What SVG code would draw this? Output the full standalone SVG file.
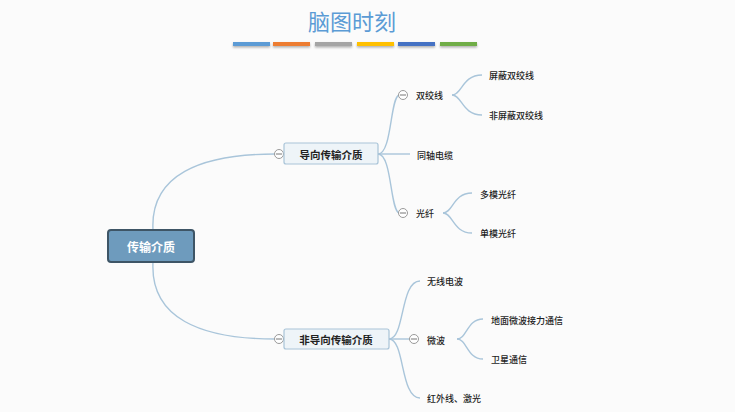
<svg xmlns="http://www.w3.org/2000/svg" width="735" height="412" viewBox="0 0 735 412">
<defs>
<style>
.t{font-family:"Noto Sans CJK SC","Liberation Sans",sans-serif;fill:#1e1e1e;font-size:9px;font-weight:500;dominant-baseline:central}
.m{font-family:"Noto Sans CJK SC","Liberation Sans",sans-serif;fill:#222;font-size:10.5px;font-weight:bold;dominant-baseline:central;text-anchor:middle}
.c{fill:none;stroke:#a9c5da;stroke-width:1.4}
.col circle{fill:#fff;stroke:#9a9a9a;stroke-width:1}
.col line{stroke:#777;stroke-width:1}
.bar{stroke:none}
</style>
<filter id="sh" x="-10%" y="-50%" width="120%" height="250%"><feDropShadow dx="0" dy="1.5" stdDeviation="1" flood-color="#000" flood-opacity="0.3"/></filter>
</defs>
<rect width="735" height="412" fill="#fbfbfb"/>
<g id="title">
<text x="352" y="20" font-family="'Noto Sans CJK SC',sans-serif" font-size="22" fill="#5b9bd5" text-anchor="middle" dominant-baseline="central">脑图时刻</text>
<g filter="url(#sh)">
<rect class="bar" x="233" y="42" width="37" height="4" fill="#5b9bd5"/>
<rect class="bar" x="273" y="42" width="37" height="4" fill="#ed7d31"/>
<rect class="bar" x="315" y="42" width="37" height="4" fill="#a5a5a5"/>
<rect class="bar" x="357" y="42" width="37" height="4" fill="#ffc000"/>
<rect class="bar" x="398" y="42" width="37" height="4" fill="#4472c4"/>
<rect class="bar" x="440" y="42" width="37" height="4" fill="#70ad47"/>
</g>
</g>
<g id="connectors">
<path class="c" d="M153,230 C150,175 200,154 275,154"/>
<path class="c" d="M153,262 C150,318 200,339 275,339"/>
<path class="c" d="M378,154 C392,154 390,98 399,95"/>
<path class="c" d="M378,154 L410,154"/>
<path class="c" d="M378,154 C392,154 390,210 399,213"/>
<path class="c" d="M452,95 C462,95 462,75 482,75"/>
<path class="c" d="M452,95 C462,95 462,115 482,115"/>
<path class="c" d="M443,213 C453,213 453,193 472,193"/>
<path class="c" d="M443,213 C453,213 453,233 472,233"/>
<path class="c" d="M389,339 C405,339 400,281 420,281"/>
<path class="c" d="M389,339 L410,339"/>
<path class="c" d="M389,339 C405,339 400,398 420,398"/>
<path class="c" d="M457,339 C467,339 467,319 483,319"/>
<path class="c" d="M457,339 C467,339 467,359 483,359"/>
</g>
<g id="root">
<rect x="108" y="230" width="86" height="32" rx="3" fill="#6e9bbd" stroke="#3e5566" stroke-width="2"/>
<text x="151" y="246" font-family="'Noto Sans CJK SC',sans-serif" font-size="12" font-weight="bold" fill="#fff" text-anchor="middle" dominant-baseline="central">传输介质</text>
</g>
<g id="guided">
<g class="col"><circle cx="279" cy="154" r="4.5"/><line x1="276" y1="154" x2="282" y2="154"/></g>
<rect x="284" y="143" width="94" height="21" rx="2" fill="#eef4f8" stroke="#a9c4d8" stroke-width="1.2"/>
<text class="m" x="331" y="154">导向传输介质</text>
</g>
<g id="twisted">
<g class="col"><circle cx="403" cy="95" r="4.5"/><line x1="400" y1="95" x2="406" y2="95"/></g>
<text class="t" x="416" y="95">双绞线</text>
</g>
<g id="stp"><text class="t" x="489" y="75">屏蔽双绞线</text></g>
<g id="utp"><text class="t" x="489" y="115">非屏蔽双绞线</text></g>
<g id="coax"><text class="t" x="417" y="155">同轴电缆</text></g>
<g id="fiber">
<g class="col"><circle cx="403" cy="213" r="4.5"/><line x1="400" y1="213" x2="406" y2="213"/></g>
<text class="t" x="416" y="213">光纤</text>
</g>
<g id="mmf"><text class="t" x="480" y="194">多模光纤</text></g>
<g id="smf"><text class="t" x="480" y="233">单模光纤</text></g>
<g id="unguided">
<g class="col"><circle cx="279" cy="339" r="4.5"/><line x1="276" y1="339" x2="282" y2="339"/></g>
<rect x="284" y="329" width="105" height="20" rx="2" fill="#eef4f8" stroke="#a9c4d8" stroke-width="1.2"/>
<text class="m" x="336" y="339">非导向传输介质</text>
</g>
<g id="radio"><text class="t" x="427" y="281">无线电波</text></g>
<g id="microwave">
<g class="col"><circle cx="414" cy="339" r="4.5"/><line x1="411" y1="339" x2="417" y2="339"/></g>
<text class="t" x="427" y="340">微波</text>
</g>
<g id="terrestrial"><text class="t" x="491" y="320">地面微波接力通信</text></g>
<g id="satellite"><text class="t" x="491" y="359">卫星通信</text></g>
<g id="infrared"><text class="t" x="427" y="398">红外线、激光</text></g>
</svg>
